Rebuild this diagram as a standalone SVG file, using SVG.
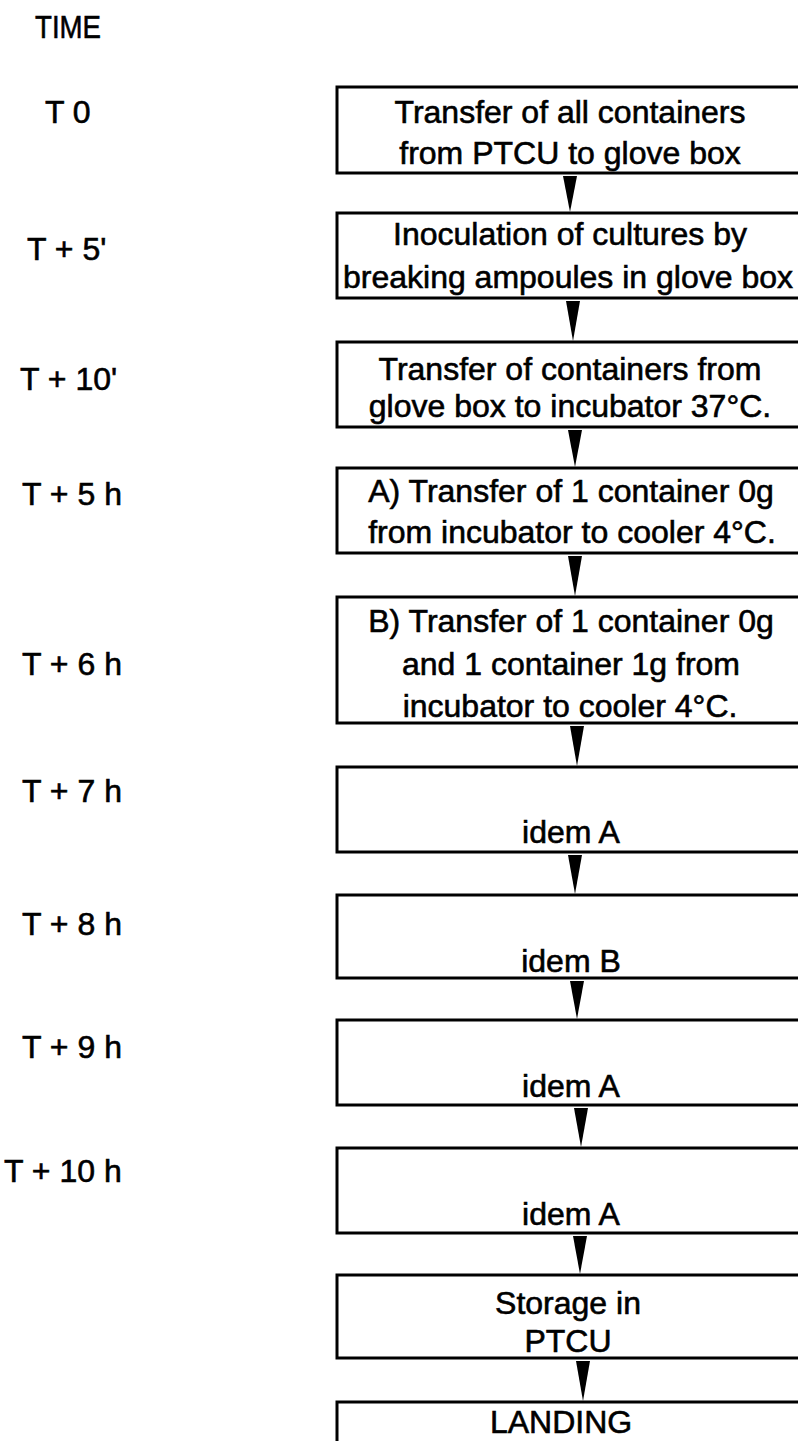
<svg xmlns="http://www.w3.org/2000/svg" width="798" height="1441" viewBox="0 0 798 1441">
<style>
  .box { fill: #fff; stroke: #000; stroke-width: 3; }
  .t { font-family: "Liberation Sans", Arial, sans-serif; font-size: 32px; fill: #000; stroke: #000; stroke-width: 0.6; }
  .c { text-anchor: middle; }
  .arr { fill: #000; stroke: none; }
</style>
<rect width="798" height="1441" fill="#fff"/>
<g id="time-labels">
  <text class="t" x="35" y="38" textLength="66" lengthAdjust="spacingAndGlyphs">TIME</text>
  <text class="t" x="45" y="123">T 0</text>
  <text class="t" x="27" y="260">T + 5'</text>
  <text class="t" x="20" y="390">T + 10'</text>
  <text class="t" x="22" y="505">T + 5 h</text>
  <text class="t" x="22" y="675">T + 6 h</text>
  <text class="t" x="22" y="802">T + 7 h</text>
  <text class="t" x="22" y="935">T + 8 h</text>
  <text class="t" x="22" y="1058">T + 9 h</text>
  <text class="t" x="4" y="1182">T + 10 h</text>
</g>
<g id="node1"><rect class="box" x="337" y="87" width="480" height="86"/>
  <text class="t c" x="570" y="123">Transfer of all containers</text>
  <text class="t c" x="570" y="164">from PTCU to glove box</text></g>
<g id="node2"><rect class="box" x="337" y="213" width="480" height="85"/>
  <text class="t c" x="570" y="245">Inoculation of cultures by</text>
  <text class="t c" x="568" y="288">breaking ampoules in glove box</text></g>
<g id="node3"><rect class="box" x="337" y="342" width="480" height="85"/>
  <text class="t c" x="570" y="380">Transfer of containers from</text>
  <text class="t c" x="570" y="417">glove box to incubator 37°C.</text></g>
<g id="node4"><rect class="box" x="337" y="468" width="480" height="85"/>
  <text class="t c" x="571" y="502">A) Transfer of 1 container 0g</text>
  <text class="t c" x="572" y="543">from incubator to cooler 4°C.</text></g>
<g id="node5"><rect class="box" x="337" y="597" width="480" height="126"/>
  <text class="t c" x="571" y="632">B) Transfer of 1 container 0g</text>
  <text class="t c" x="571" y="675">and 1 container 1g from</text>
  <text class="t c" x="570" y="717">incubator to cooler 4°C.</text></g>
<g id="node6"><rect class="box" x="337" y="767" width="480" height="85"/>
  <text class="t c" x="571" y="843">idem A</text></g>
<g id="node7"><rect class="box" x="337" y="895" width="480" height="83"/>
  <text class="t c" x="571" y="972">idem B</text></g>
<g id="node8"><rect class="box" x="337" y="1020" width="480" height="85"/>
  <text class="t c" x="571" y="1097">idem A</text></g>
<g id="node9"><rect class="box" x="337" y="1148" width="480" height="85"/>
  <text class="t c" x="571" y="1225">idem A</text></g>
<g id="node10"><rect class="box" x="337" y="1275" width="480" height="83"/>
  <text class="t c" x="568" y="1314">Storage in</text>
  <text class="t c" x="568" y="1352">PTCU</text></g>
<g id="node11"><rect class="box" x="337" y="1402" width="480" height="60"/>
  <text class="t c" x="561" y="1433">LANDING</text></g>
<g id="connectors">
  <path class="arr" d="M563,176 L577,176 L570,212 Z"/>
  <path class="arr" d="M566,301 L580,301 L573,341 Z"/>
  <path class="arr" d="M568,430 L582,430 L575,467 Z"/>
  <path class="arr" d="M568,556 L582,556 L575,596 Z"/>
  <path class="arr" d="M570,726 L584,726 L577,766 Z"/>
  <path class="arr" d="M568,855 L582,855 L575,894 Z"/>
  <path class="arr" d="M570,981 L584,981 L577,1019 Z"/>
  <path class="arr" d="M574,1108 L588,1108 L581,1147 Z"/>
  <path class="arr" d="M573,1236 L587,1236 L580,1274 Z"/>
  <path class="arr" d="M576,1361 L590,1361 L583,1401 Z"/>
</g>
</svg>
